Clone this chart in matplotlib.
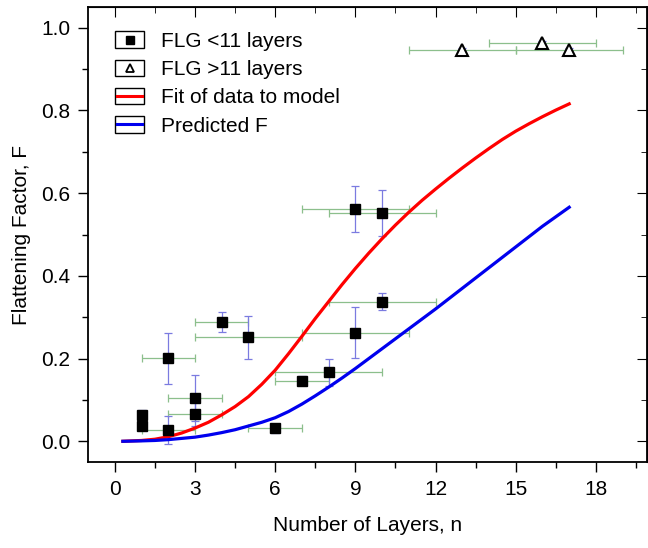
import numpy as np
from matplotlib import pyplot as plt
from matplotlib.legend_handler import HandlerBase
from matplotlib.patches import Rectangle
from matplotlib.lines import Line2D
import matplotlib.ticker as mticker

plt.rcParams['font.family'] = ['Liberation Sans', 'DejaVu Sans']

# FLG < 11 layers (filled squares)
low_n = [1, 1, 2, 2, 3, 3, 4, 5, 6, 7, 8, 9, 10, 9, 10]
low_f = [0.037, 0.063, 0.201, 0.028, 0.105, 0.067, 0.288, 0.252, 0.031,
         0.147, 0.167, 0.263, 0.338, 0.562, 0.552]
low_nerr = [0, 0, 1, 1, 1, 1, 1, 2, 1, 1, 2, 2, 2, 2, 2]
low_ferr = [0.01, 0.012, 0.062, 0.034, 0.055, 0.03, 0.024, 0.052, 0.012,
            0.01, 0.033, 0.062, 0.021, 0.056, 0.055]

# FLG > 11 layers (open triangles)
high_n = [13, 16, 17]
high_f = [0.946, 0.963, 0.946]
high_nerr = [2, 2, 2]
high_ferr = [0.006, 0.006, 0.006]

# curves
curve_n = [0.3, 1, 1.5, 2, 2.5, 3, 3.5, 4, 4.5, 5, 5.5, 6, 6.5, 7, 7.5, 8,
           8.5, 9, 9.5, 10, 10.5, 11, 11.5, 12, 12.5, 13, 13.5, 14, 14.5,
           15, 15.5, 16, 16.5, 17]
fit_f = [0.0, 0.002, 0.005, 0.011, 0.02, 0.032, 0.046, 0.064, 0.084, 0.108,
         0.138, 0.172, 0.212, 0.254, 0.297, 0.338, 0.379, 0.418, 0.455, 0.49,
         0.523, 0.554, 0.583, 0.61, 0.636, 0.661, 0.685, 0.708, 0.73, 0.75,
         0.768, 0.785, 0.801, 0.816]
pred_f = [0.0, 0.001, 0.002, 0.004, 0.007, 0.01, 0.015, 0.021, 0.028, 0.037,
          0.046, 0.057, 0.072, 0.09, 0.11, 0.131, 0.153, 0.176, 0.2, 0.224,
          0.248, 0.272, 0.296, 0.32, 0.345, 0.37, 0.395, 0.42, 0.445, 0.47,
          0.495, 0.52, 0.543, 0.566]

xticks = [0, 3, 6, 9, 12, 15, 18]
yticks = [0.0, 0.2, 0.4, 0.6, 0.8, 1.0]


class BoxedHandler(HandlerBase):
    # Origin style legend entry: symbol drawn inside a small box
    def create_artists(self, legend, orig_handle, xdescent, ydescent,
                       width, height, fontsize, trans):
        box = Rectangle((-xdescent, -ydescent), width, height,
                        facecolor='none', edgecolor='black', lw=1.0,
                        transform=trans)
        yc = -ydescent + height / 2.0
        if orig_handle.get_marker() in (None, 'None', '', ' '):
            inner = Line2D([-xdescent + 1.5, -xdescent + width - 1.5], [yc, yc],
                           color=orig_handle.get_color(), lw=2.2,
                           transform=trans)
        else:
            inner = Line2D([-xdescent + width / 2.0], [yc],
                           marker=orig_handle.get_marker(), linestyle='none',
                           markersize=orig_handle.get_markersize() * 0.75,
                           markerfacecolor=orig_handle.get_markerfacecolor(),
                           markeredgecolor='black',
                           markeredgewidth=orig_handle.get_markeredgewidth(),
                           transform=trans)
        return [box, inner]


def main():
    fig = plt.figure(figsize=(6.48, 5.48), dpi=100)
    ax = fig.add_axes([0.136, 0.157, 0.862, 0.830])

    ax.errorbar(low_n, low_f, xerr=low_nerr, fmt='none', ecolor='#8cbf8c',
                elinewidth=0.9, capsize=3, capthick=0.9, zorder=2)
    ax.errorbar(low_n, low_f, yerr=low_ferr, fmt='none', ecolor='#7b7be0',
                elinewidth=0.9, capsize=3, capthick=0.9, zorder=2)
    ax.errorbar(high_n, high_f, xerr=high_nerr, fmt='none', ecolor='#8cbf8c',
                elinewidth=0.9, capsize=3, capthick=0.9, zorder=2)
    ax.errorbar(high_n, high_f, yerr=high_ferr, fmt='none', ecolor='#7b7be0',
                elinewidth=0.9, capsize=3, capthick=0.9, zorder=2)

    ax.plot(curve_n, fit_f, color='#ff0000', lw=2.3, zorder=3)
    ax.plot(curve_n, pred_f, color='#0000ee', lw=2.3, zorder=3)

    ax.plot(low_n, low_f, linestyle='none', marker='s', markersize=7.5,
            markerfacecolor='black', markeredgecolor='black', zorder=4)
    ax.plot(high_n, high_f, linestyle='none', marker='^', markersize=8.5,
            markerfacecolor='white', markeredgecolor='black',
            markeredgewidth=1.5, zorder=4)

    ax.set_xlim(-1, 19.9)
    ax.set_ylim(-0.05, 1.05)
    ax.set_xticks(xticks)
    ax.set_yticks(yticks)
    ax.xaxis.set_minor_locator(mticker.MultipleLocator(1.5))
    ax.yaxis.set_minor_locator(mticker.MultipleLocator(0.1))
    ax.yaxis.set_major_formatter(mticker.FormatStrFormatter('%.1f'))
    ax.tick_params(which='major', direction='out', length=7, width=1.0,
                   labelsize=15, pad=6)
    ax.tick_params(which='minor', direction='out', length=4, width=1.0)
    for s in ax.spines.values():
        s.set_linewidth(1.3)

    top = ax.secondary_xaxis('top')
    top.set_xticks(xticks)
    top.xaxis.set_minor_locator(mticker.MultipleLocator(1.5))
    top.tick_params(which='major', direction='in', length=7, labeltop=False)
    top.tick_params(which='minor', direction='in', length=4)
    right = ax.secondary_yaxis('right')
    right.set_yticks(yticks)
    right.yaxis.set_minor_locator(mticker.MultipleLocator(0.1))
    right.tick_params(which='major', direction='in', length=7, labelright=False)
    right.tick_params(which='minor', direction='in', length=4)

    ax.set_xlabel('Number of Layers, n', fontsize=15, labelpad=12)
    ax.set_ylabel('Flattening Factor, F', fontsize=15, labelpad=7)

    h1 = Line2D([], [], linestyle='none', marker='s', markersize=7.5,
                markerfacecolor='black', markeredgewidth=1.0)
    h2 = Line2D([], [], linestyle='none', marker='^', markersize=8.5,
                markerfacecolor='white', markeredgewidth=1.3)
    h3 = Line2D([], [], color='#ff0000')
    h4 = Line2D([], [], color='#0000ee')
    handles = [h1, h2, h3, h4]
    labels = ['FLG <11 layers', 'FLG >11 layers', 'Fit of data to model',
              'Predicted F']
    ax.legend(handles, labels, handler_map={h: BoxedHandler() for h in handles},
              loc='upper left', bbox_to_anchor=(0.048, 0.947), frameon=False,
              fontsize=15, borderpad=0, borderaxespad=0, handlelength=1.4,
              handleheight=0.85, handletextpad=0.8, labelspacing=0.42)

    plt.savefig('out.png', dpi=100)
    plt.close(fig)


if __name__ == '__main__':
    main()
